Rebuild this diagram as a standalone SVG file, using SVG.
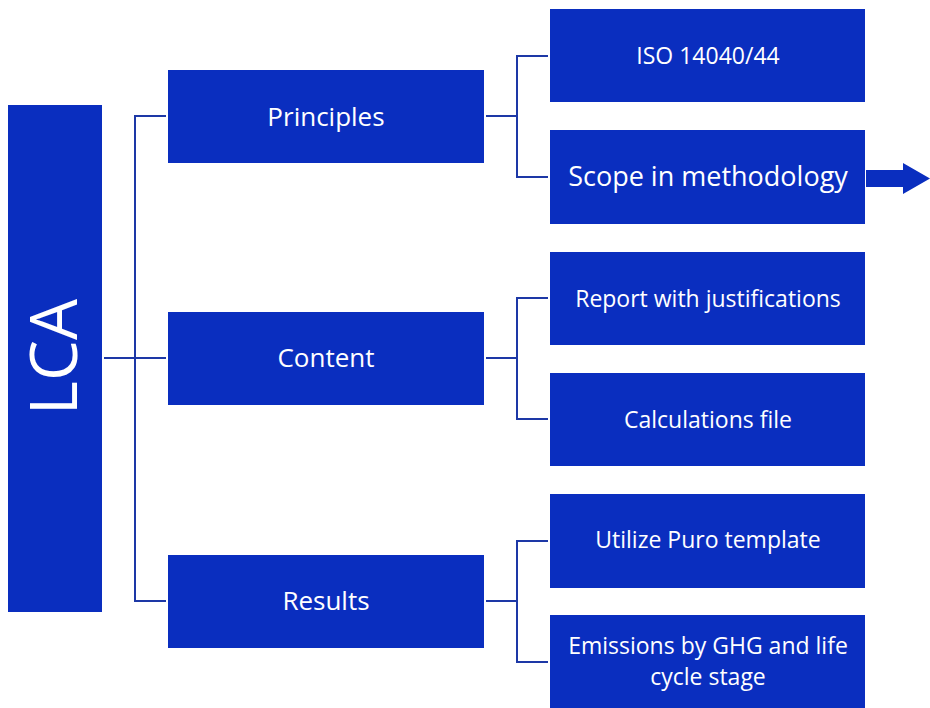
<svg xmlns="http://www.w3.org/2000/svg" width="930" height="708" viewBox="0 0 930 708">
  <style>
    .box { fill: #0a2ebf; }
    .lbl { fill: #ffffff; font-family: "Open Sans", "Liberation Sans", sans-serif; text-anchor: middle; }
    .conn { fill: none; stroke: #1d38a6; stroke-width: 2; }
  </style>

  <!-- connectors -->
  <g id="connectors">
    <path class="conn" d="M104 358 H166 M166 116 H135 V601 H166"/>
    <path class="conn" d="M486 116 H517 M548 56 H517 V177 H548"/>
    <path class="conn" d="M486 358 H517 M548 298 H517 V419 H548"/>
    <path class="conn" d="M486 601 H517 M548 541 H517 V662 H548"/>
    <path id="out-arrow" fill="#0a2ebf" d="M866 170 H903 V163 L930 178.5 L903 194 V187 H866 Z"/>
  </g>

  <!-- root -->
  <g id="lca">
    <rect class="box" x="8" y="105" width="94" height="507"/>
    <text class="lbl" transform="translate(77,357) rotate(-90)" font-size="65">LCA</text>
  </g>

  <!-- second level -->
  <g id="principles">
    <rect class="box" x="168" y="70" width="316" height="93"/>
    <text class="lbl" x="326" y="126" font-size="26">Principles</text>
  </g>
  <g id="content">
    <rect class="box" x="168" y="312" width="316" height="93"/>
    <text class="lbl" x="326" y="367" font-size="26">Content</text>
  </g>
  <g id="results">
    <rect class="box" x="168" y="555" width="316" height="93"/>
    <text class="lbl" x="326" y="610" font-size="26">Results</text>
  </g>

  <!-- third level -->
  <g id="iso">
    <rect class="box" x="550" y="9" width="315" height="93"/>
    <text class="lbl" x="708" y="64" font-size="23">ISO 14040/44</text>
  </g>
  <g id="scope">
    <rect class="box" x="550" y="130" width="315" height="94"/>
    <text class="lbl" x="708" y="186" font-size="27">Scope in methodology</text>
  </g>
  <g id="report">
    <rect class="box" x="550" y="252" width="315" height="93"/>
    <text class="lbl" x="708" y="307" font-size="23">Report with justifications</text>
  </g>
  <g id="calculations">
    <rect class="box" x="550" y="373" width="315" height="93"/>
    <text class="lbl" x="708" y="428" font-size="23">Calculations file</text>
  </g>
  <g id="template">
    <rect class="box" x="550" y="494" width="315" height="94"/>
    <text class="lbl" x="708" y="548" font-size="23">Utilize Puro template</text>
  </g>
  <g id="emissions">
    <rect class="box" x="550" y="615" width="315" height="93"/>
    <text class="lbl" x="708" y="654" font-size="23">Emissions by GHG and life</text>
    <text class="lbl" x="708" y="685" font-size="23">cycle stage</text>
  </g>
</svg>
